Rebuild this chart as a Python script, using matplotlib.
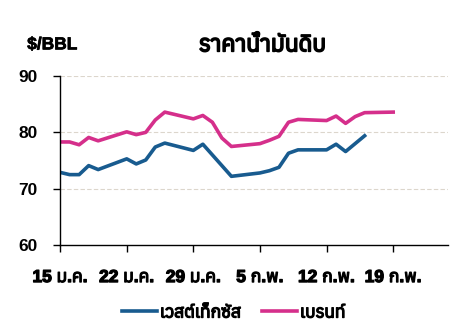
import datetime as dt
import matplotlib
matplotlib.use("Agg")
import matplotlib.pyplot as plt
import matplotlib.patheffects as pe
from matplotlib import font_manager
from matplotlib.ft2font import FT2Font

# find an installed family that has Thai glyphs
thai_fams = []
for f in font_manager.fontManager.ttflist:
    try:
        if 0x0E23 in FT2Font(f.fname).get_charmap():
            thai_fams.append(f.name)
    except Exception:
        pass
thai_fams = sorted(set(thai_fams))
fams = ['Liberation Sans'] + thai_fams[:1] + ['DejaVu Sans']
plt.rcParams['font.family'] = fams

# data (weekdays, $/bbl)
dates = ['2024-01-15', '2024-01-16', '2024-01-17', '2024-01-18', '2024-01-19',
         '2024-01-22', '2024-01-23', '2024-01-24', '2024-01-25', '2024-01-26',
         '2024-01-29', '2024-01-30', '2024-01-31', '2024-02-01', '2024-02-02',
         '2024-02-05', '2024-02-06', '2024-02-07', '2024-02-08', '2024-02-09',
         '2024-02-12', '2024-02-13', '2024-02-14', '2024-02-15', '2024-02-16',
         '2024-02-19']
wti = [72.9, 72.5, 72.5, 74.1, 73.4,
       75.3, 74.4, 75.1, 77.4, 78.1,
       76.8, 77.9, 76.0, 74.1, 72.2,
       72.8, 73.2, 73.8, 76.3, 76.9,
       76.9, 77.9, 76.6, 78.0, 79.4]
brent = [78.3, 78.3, 77.8, 79.1, 78.5,
         80.1, 79.6, 80.0, 82.2, 83.6,
         82.4, 83.0, 81.8, 79.0, 77.5,
         78.0, 78.6, 79.3, 81.8, 82.3,
         82.1, 82.9, 81.6, 82.8, 83.5,
         83.6]
tick_dates = ['2024-01-15', '2024-01-22', '2024-01-29', '2024-02-05', '2024-02-12', '2024-02-19']
tick_labels = ['15 ม.ค.', '22 ม.ค.', '29 ม.ค.', '5 ก.พ.', '12 ก.พ.', '19 ก.พ.']

d = [dt.datetime.strptime(s, '%Y-%m-%d') for s in dates]
td = [dt.datetime.strptime(s, '%Y-%m-%d') for s in tick_dates]

# thai font has no bold here, so thicken with a stroke
bold = [pe.withStroke(linewidth=0.9, foreground='black')]

fig = plt.figure(figsize=(4.77, 3.25), dpi=100)
ax = fig.add_axes([0.126, 0.246, 0.813, 0.52])

ax.plot(d[:len(wti)], wti, color='#185b8f', lw=2.6, label='เวสต์เท็กซัส', solid_joinstyle='round')
ax.plot(d, brent, color='#d52f8b', lw=2.6, label='เบรนท์', solid_joinstyle='round')

ax.set_ylim(60, 90)
ax.set_yticks([60, 70, 80, 90])
ax.set_xlim(dt.datetime(2024, 1, 15), dt.datetime(2024, 2, 24, 18))
ax.set_xticks(td)
ax.set_xticklabels(tick_labels)
for y in [70, 80, 90]:
    ax.axhline(y, color='#dcd6cc', lw=0.8, ls=(0, (4, 2)), zorder=0)

for s in ['top', 'right']:
    ax.spines[s].set_visible(False)
ax.spines['left'].set_linewidth(1.0)
ax.spines['bottom'].set_linewidth(1.0)
ax.tick_params(axis='y', length=5, width=1, pad=11, labelsize=12.5)
ax.tick_params(axis='x', length=5, width=1, pad=13, labelsize=12.5)
for lab in ax.get_yticklabels():
    lab.set_fontweight('bold')
for lab in ax.get_xticklabels():
    lab.set_fontweight('bold')
    lab.set_path_effects(bold)

fig.text(0.057, 0.862, '$/BBL', fontsize=12.5, fontweight='bold', va='center', ha='left',
         path_effects=[pe.withStroke(linewidth=0.5, foreground='black')])
fig.text(0.55, 0.862, 'ราคาน้ำมันดิบ', fontsize=16.5, fontweight='bold', va='center', ha='center',
         path_effects=[pe.withStroke(linewidth=1.2, foreground='black')])

leg = fig.legend(loc='center', bbox_to_anchor=(0.49, 0.037), ncol=2, frameon=False,
                 fontsize=12.5, handlelength=2.0, handletextpad=0.2, columnspacing=1.2)
for t in leg.get_texts():
    t.set_fontweight('bold')
    t.set_path_effects(bold)

fig.savefig('out.png', dpi=100)
